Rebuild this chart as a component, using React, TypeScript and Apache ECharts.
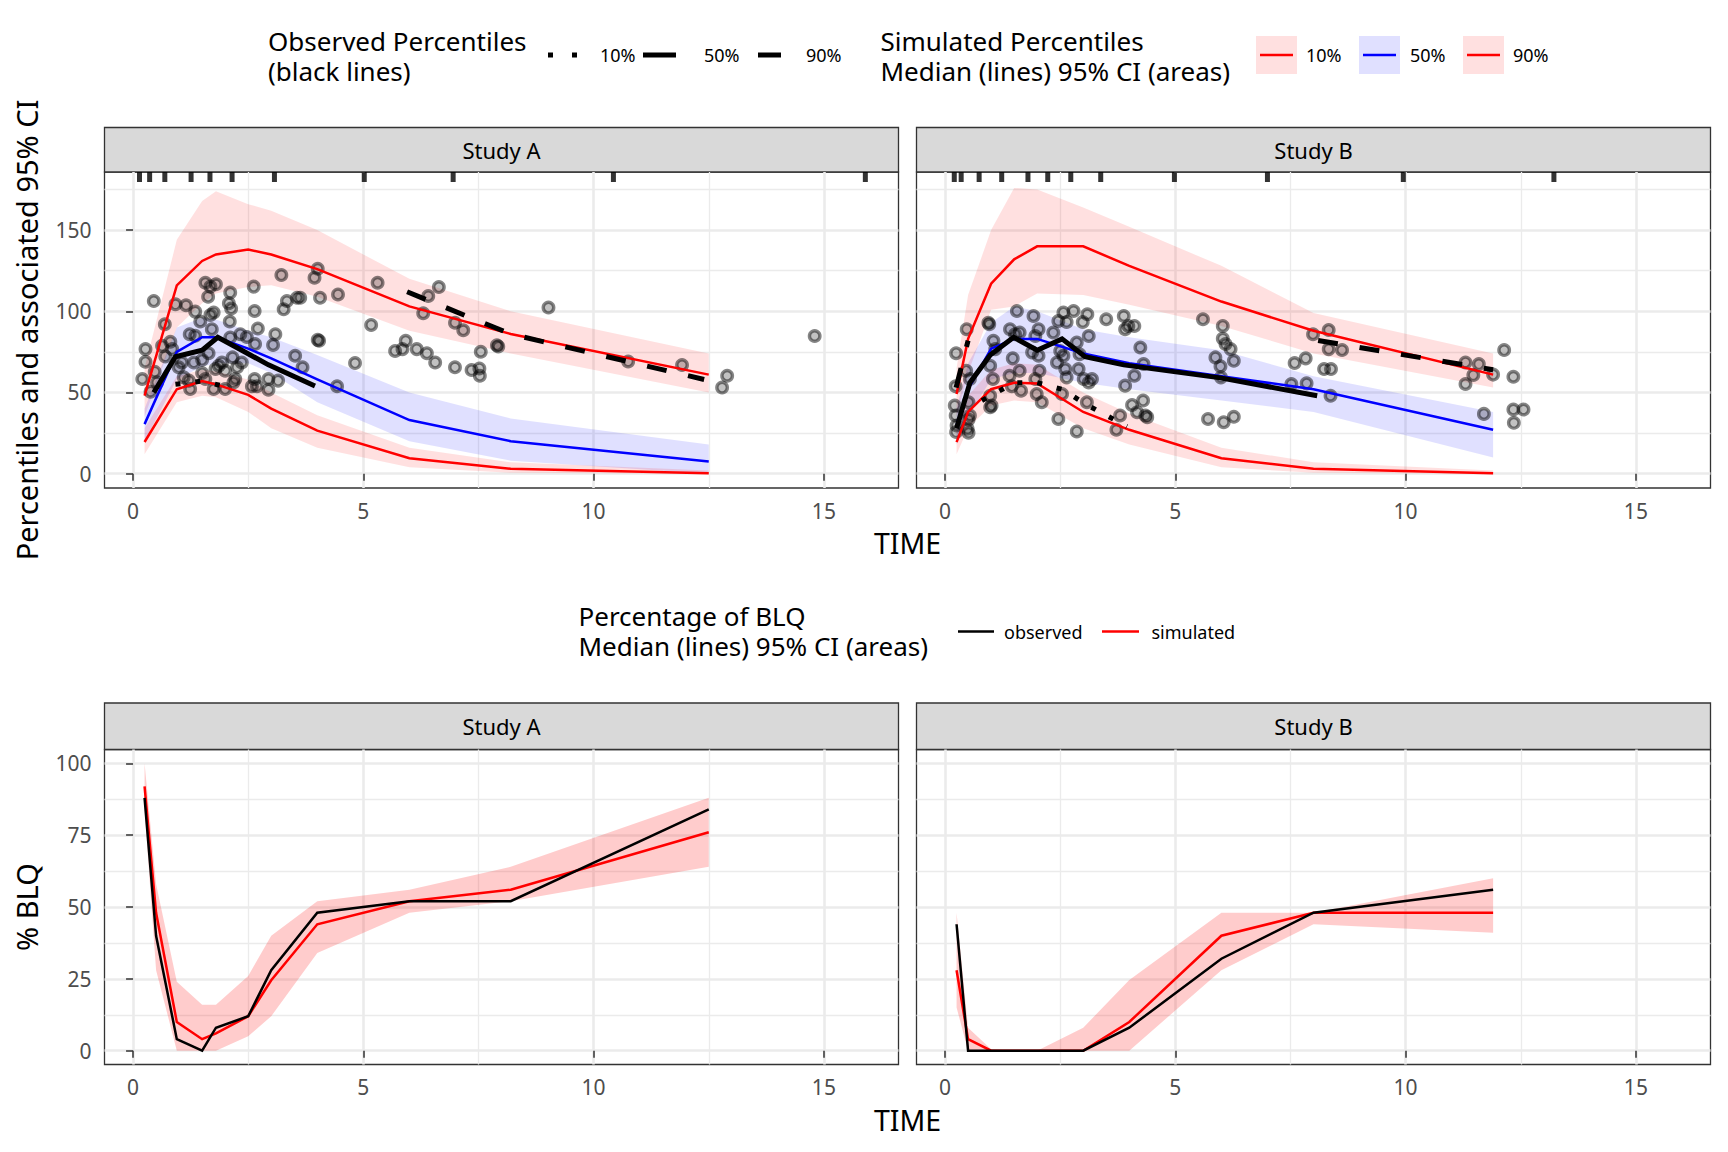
import React, { useEffect, useRef } from "react";
import * as echarts from "echarts";

// ---------------- DATA ----------------
const panels = ["Study A", "Study B"];
const xTicks = [0, 5, 10, 15];
const xMinor = [2.5, 7.5, 12.5];
const topYTicks = [0, 50, 100, 150];
const topYMinor = [25, 75, 125, 175];
const botYTicks = [0, 25, 50, 75, 100];
const botYMinor = [12.5, 37.5, 62.5, 87.5];

// Simulated percentiles (median + 95% CI), Study A
const simTimeA = [0.25, 0.95, 1.5, 1.8, 2.5, 3.0, 4.0, 6.0, 8.2, 12.5];
const simP10A = [19.5, 52, 57, 55, 48.5, 40, 26.5, 9.5, 3, 0.3];
const simP10LoA = [12, 44, 48, 47, 38, 28, 16, 4, 0.5, 0];
const simP10HiA = [28, 60, 64, 63, 58, 50, 36, 16, 7, 2];
const simP50A = [30.5, 75, 84, 84, 77, 71, 58, 33, 20, 7.5];
const simP50LoA = [20, 58, 66, 68, 68, 62, 44, 20, 8, 0];
const simP50HiA = [40, 90, 96, 95, 88, 84, 73, 50, 34, 18];
const simP90A = [48, 116, 131, 135, 138, 135, 126, 103, 86, 61];
const simP90LoA = [35, 90, 105, 111, 115, 116, 109, 88, 74, 50];
const simP90HiA = [65, 144, 168, 174, 166, 162, 150, 120, 100, 74];

// Simulated percentiles, Study B
const simTimeB = [0.25, 0.5, 1.0, 1.5, 2.0, 3.0, 4.0, 6.0, 8.0, 11.9];
const simP10B = [19.4, 38, 52, 56, 55.5, 38, 27, 9.5, 3, 0.3];
const simP10LoB = [12, 28, 42, 45, 44, 28, 18, 4, 0.5, 0];
const simP10HiB = [28, 48, 64, 68, 67, 50, 37, 16, 7, 2];
const simP50B = [30, 52, 77, 83, 83, 74, 68, 60, 52, 27];
const simP50LoB = [18, 35, 58, 62, 62, 56, 52, 45, 38, 10];
const simP50HiB = [40, 68, 93, 103, 100, 89, 84, 76, 60, 38];
const simP90B = [49, 83, 117, 132, 140, 140, 128, 106, 88, 61];
const simP90LoB = [35, 62, 101, 103, 111, 110, 104, 91, 74, 53];
const simP90HiB = [65, 110, 150, 176, 175, 164, 152, 128, 99, 74];

// Observed percentiles, Study A
const obsP10TimeA = [0.92, 1.5, 1.95];
const obsP10A = [55, 57, 54];
const obsP50TimeA = [0.45, 0.92, 1.5, 1.84, 2.36, 2.94, 3.95];
const obsP50A = [50, 72, 76, 84, 76, 67, 54];
const obsP90TimeA = [5.95, 8.2, 12.4];
const obsP90A = [112, 86, 58];

// Observed percentiles, Study B
const obsP10TimeB = [0.8, 1.5, 2.0, 2.54, 3.04, 3.95];
const obsP10B = [45, 56, 56, 52, 43, 29];
const obsP50TimeB = [0.25, 0.54, 0.98, 1.49, 2.0, 2.54, 3.04, 3.88, 5.98, 8.08];
const obsP50B = [28, 56, 73, 84, 76, 83, 72, 67, 59, 48];
const obsP90TimeB1 = [0.24, 0.5];
const obsP90B1 = [53, 82];
const obsP90TimeB2 = [8.1, 11.9];
const obsP90B2 = [82, 64];

// Bin boundaries (rug)
const rugA = [0.14, 0.36, 0.69, 1.26, 1.67, 2.15, 3.07, 5.02, 6.95, 10.43, 15.9];
const rugB = [0.2, 0.35, 0.74, 1.23, 1.8, 2.23, 2.73, 3.38, 4.98, 7.0, 9.95, 13.22];

// Observations, Study A
const obsTimeA = [
  0.45, 0.27, 0.27, 0.2, 0.38, 0.47, 0.52, 0.69, 0.63, 0.81, 0.7, 0.92, 1.15, 1.35, 1.23, 1.46,
  1.57, 1.68, 1.8, 1.63, 1.68, 1.75, 1.71, 1.5, 0.99, 1.1, 1.21, 1.24, 1.5, 1.57, 1.75, 2.0,
  1.79, 1.93, 2.11, 2.08, 2.13, 2.1, 2.11, 2.16, 2.26, 2.22, 2.18, 2.33, 2.47, 2.62, 2.64, 2.71,
  2.65, 2.64, 2.58, 2.69, 2.94, 2.94, 3.15, 3.09, 3.04, 3.22, 3.27, 3.34, 3.56, 3.63, 4.06, 4.01,
  3.94, 3.52, 3.68, 4.01, 4.04, 4.45, 4.43, 4.82, 5.17, 5.31, 5.69, 5.85, 5.92, 6.16, 6.38, 6.56,
  6.3, 6.41, 6.64, 6.99, 6.99, 0.85, 1.06, 1.32, 1.35, 1.64, 1.86, 2.0, 2.36, 7.17, 9.02, 7.9,
  7.93, 7.55, 7.35, 7.52, 7.53, 10.75, 11.92, 12.9, 12.79, 14.8,
];
const obsConcA = [
  106.3, 76.7, 68.9, 58.3, 50.5, 62.8, 56.2, 92, 78.7, 81.2, 72.2, 104.3, 103.7, 99.8, 85.9, 93.7,
  117.6, 115.2, 116.6, 109, 97.7, 99.2, 89, 70.1, 65.5, 59.3, 57.3, 52.1, 62, 58.3, 52.1, 52.1,
  64.4, 68.5, 111.5, 104.9, 101.7, 93.7, 83.9, 71.6, 65.5, 58.3, 56.2, 85.9, 84.2, 115.2, 100.2, 89.4,
  79.8, 58.3, 53.8, 53.8, 58.3, 51.7, 57.3, 85.9, 79.3, 122.3, 101.2, 106.3, 108.4, 108.4, 108.4, 126.2,
  120.7, 72.6, 65.5, 82.4, 81.8, 110.4, 53.8, 68.1, 91.6, 117.6, 75.6, 76.7, 81.8, 76.7, 74.2, 68.5,
  98.8, 109.4, 114.9, 65.5, 93, 76.7, 68.5, 68.5, 84.9, 74.2, 66.5, 63.4, 68.5, 88.3, 102.3, 79.1,
  78.3, 75.1, 63.8, 64.8, 60.3, 69.1, 66.9, 60.3, 53, 84.8,
];

// Observations, Study B
const obsTimeB = [
  0.47, 0.24, 0.23, 0.21, 0.23, 0.25, 0.24, 0.49, 0.51, 0.46, 0.54, 0.51, 0.54, 0.51, 0.94, 0.96,
  1.05, 1.09, 0.98, 1.04, 0.98, 1.01, 0.98, 1.41, 1.56, 1.47, 1.4, 1.45, 1.62, 1.65, 1.52, 1.62,
  1.92, 2.03, 1.96, 1.89, 2.03, 2.05, 1.96, 1.99, 2.1, 2.35, 2.46, 2.57, 2.64, 2.5, 2.43, 2.57,
  2.61, 2.64, 2.54, 2.46, 2.79, 2.99, 3.09, 3.12, 2.86, 2.92, 2.9, 3.01, 3.12, 3.19, 3.08, 2.86,
  3.5, 3.88, 3.91, 3.98, 4.11, 4.24, 4.31, 4.11, 3.91, 4.06, 4.17, 4.3, 4.35, 4.39, 3.8, 3.72,
  5.6, 6.03, 6.03, 6.09, 6.2, 6.27, 5.87, 5.98, 5.99, 5.71, 6.05, 6.27, 7.59, 7.83, 7.52, 7.85,
  7.99, 8.33, 8.33, 8.62, 8.23, 8.38, 8.37, 11.3, 11.59, 11.47, 11.3, 11.9, 12.14, 12.34, 11.7, 12.34,
  12.56, 12.35,
];
const obsConcB = [
  89, 74.2, 53.8, 41.9, 35.8, 29.6, 25.6, 27.6, 25.2, 63.4, 58.3, 44, 35.8, 33.3, 93, 92,
  81.8, 76.7, 66.5, 58.3, 48, 41.9, 40.9, 89, 100.2, 71, 60.3, 53.8, 63.4, 51.1, 85.9, 86.9,
  97.1, 89, 84.8, 74.7, 72.6, 63.4, 58.3, 49.1, 44, 86.9, 94, 99.2, 93.4, 75.6, 68.5, 72.6,
  64.4, 59.3, 49.1, 33.7, 100.2, 93.4, 98.2, 84.8, 80.8, 73.6, 64.4, 58.3, 56.2, 58.3, 44, 26,
  95.1, 97.1, 89, 91, 91, 77.7, 67.5, 60.3, 54.2, 42.3, 37.8, 45, 35.8, 34.8, 35.8, 27,
  95.1, 91, 83.2, 79.8, 76.7, 69.5, 71.6, 66.1, 59.3, 33.7, 31.7, 35, 68.1, 71, 55.2, 55.6,
  85.9, 88.5, 76.7, 76.1, 64.4, 64.4, 48, 68.5, 67.5, 60.7, 55.2, 61, 76.1, 59.7, 36.8, 39.5,
  39.5, 31.3,
];

// Percentage of BLQ, Study A
const blqSimTimeA = [0.25, 0.5, 0.95, 1.5, 1.8, 2.5, 3.0, 4.0, 6.0, 8.2, 12.5];
const blqSimA = [92, 48, 10, 4, 6, 12, 24.5, 44, 52, 56, 76];
const blqSimLoA = [84, 28, 0, 0, 0, 5, 12, 34, 48, 52, 64];
const blqSimHiA = [100, 58, 24, 16, 16, 26, 40, 52, 56, 64, 88];
const blqObsTimeA = [0.25, 0.5, 0.95, 1.5, 1.8, 2.5, 3.0, 4.0, 6.0, 8.2, 12.5];
const blqObsA = [88, 40, 4, 0, 8, 12, 28, 48, 52, 52, 84];

// Percentage of BLQ, Study B
const blqSimTimeB = [0.25, 0.5, 1.0, 1.5, 2.0, 3.0, 4.0, 6.0, 8.0, 11.9];
const blqSimB = [28, 4, 0, 0, 0, 0, 10, 40, 48, 48];
const blqSimLoB = [15, 0, 0, 0, 0, 0, 0, 28, 44, 41];
const blqSimHiB = [48, 8, 0.5, 0, 0, 8, 24.6, 48, 48, 60];
const blqObsTimeB = [0.25, 0.5, 1.0, 1.5, 2.0, 3.0, 4.0, 6.0, 8.0, 11.9];
const blqObsB = [44, 0, 0, 0, 0, 0, 8, 32, 48, 56];

// ---------------- LAYOUT / STYLE ----------------
const FONT = '"Noto Sans", "DejaVu Sans", sans-serif';
const X_MIN = -0.62;
const X_MAX = 16.62;
const TOP_Y = [-8.85, 185.8];
const BOT_Y = [-4.8, 104.8];
const PANEL_LEFT = [104.5, 916.5];
const PANEL_W = 794;
const TOP_PANEL = { top: 172, height: 316 };
const BOT_PANEL = { top: 749.5, height: 315 };
const TOP_STRIP = { top: 127.5, height: 44.5 };
const BOT_STRIP = { top: 703, height: 46.5 };

const RED = "#FF0000";
const BLUE = "#0000FF";
const PINK = "rgba(255,0,0,0.12)";
const LILAC = "rgba(0,0,255,0.12)";
const PINK2 = "rgba(255,0,0,0.2)";
const GRID_COL = "#EBEBEB";

const pairs = (xs: number[], ys: number[]) => xs.map((x, i) => [x, ys[i]]);

function gridLines(g: number, yTicks: number[], yMinor: number[]) {
  const minor = { color: GRID_COL, width: 1.3, type: "solid" };
  const major = { color: GRID_COL, width: 2.6, type: "solid" };
  return {
    type: "line",
    xAxisIndex: g,
    yAxisIndex: g,
    data: [[xTicks[0], yTicks[0]]],
    symbol: "none",
    showSymbol: false,
    lineStyle: { opacity: 0 },
    silent: true,
    z: 0,
    markLine: {
      silent: true,
      z: 0,
      symbol: ["none", "none"],
      label: { show: false },
      emphasis: { disabled: true },
      lineStyle: { color: GRID_COL, type: "solid" },
      data: [
        ...xMinor.map((v) => ({ xAxis: v, lineStyle: minor })),
        ...yMinor.map((v) => ({ yAxis: v, lineStyle: minor })),
        ...xTicks.map((v) => ({ xAxis: v, lineStyle: major })),
        ...yTicks.map((v) => ({ yAxis: v, lineStyle: major })),
      ],
    },
  };
}

function band(g: number, xs: number[], lo: number[], hi: number[], fill: string, z = 2) {
  return {
    type: "custom",
    xAxisIndex: g,
    yAxisIndex: g,
    silent: true,
    z,
    data: xs.map((x, i) => [x, lo[i], hi[i]]),
    encode: { x: 0, y: [1, 2] },
    renderItem: (params: any, api: any) => {
      if (params.dataIndex !== 0) return { type: "group", children: [] };
      const pts: number[][] = [];
      for (let i = 0; i < xs.length; i++) pts.push(api.coord([xs[i], hi[i]]));
      for (let i = xs.length - 1; i >= 0; i--) pts.push(api.coord([xs[i], lo[i]]));
      return { type: "polygon", shape: { points: pts }, style: { fill, stroke: "none" } };
    },
  };
}

function line(g: number, xs: number[], ys: number[], color: string, width: number, dash: any = "solid", z = 4) {
  return {
    type: "line",
    xAxisIndex: g,
    yAxisIndex: g,
    data: pairs(xs, ys),
    symbol: "none",
    showSymbol: false,
    silent: true,
    z,
    lineStyle: { color, width, type: dash, cap: "butt", join: "miter" },
  };
}

function points(g: number, xs: number[], ys: number[]) {
  return {
    type: "scatter",
    xAxisIndex: g,
    yAxisIndex: g,
    data: pairs(xs, ys),
    symbol: "circle",
    symbolSize: 10.5,
    silent: true,
    z: 3,
    itemStyle: { color: "rgba(0,0,0,0.3)", borderColor: "rgba(0,0,0,0.6)", borderWidth: 3.4 },
  };
}

function rug(g: number, xs: number[]) {
  return {
    type: "scatter",
    xAxisIndex: g,
    yAxisIndex: g,
    data: xs.map((x) => [x, TOP_Y[1]]),
    symbol: "rect",
    symbolSize: [5, 10],
    symbolOffset: [0, 5],
    clip: false,
    silent: true,
    z: 6,
    itemStyle: { color: "#000" },
  };
}

function xAxis(g: number) {
  return {
    type: "value",
    gridIndex: g,
    min: X_MIN,
    max: X_MAX,
    axisLine: { show: false },
    splitLine: { show: false },
    axisTick: { show: true, length: 7, customValues: xTicks, lineStyle: { color: "#333333", width: 1.5 } },
    axisLabel: { show: true, customValues: xTicks, fontSize: 21, fontFamily: FONT, color: "#4D4D4D", margin: 12 },
  };
}

function yAxis(g: number, range: number[], ticks: number[], labels: boolean) {
  return {
    type: "value",
    gridIndex: g,
    min: range[0],
    max: range[1],
    axisLine: { show: false },
    splitLine: { show: false },
    axisTick: { show: labels, length: 7, customValues: ticks, lineStyle: { color: "#333333", width: 1.5 } },
    axisLabel: { show: labels, customValues: ticks, fontSize: 21, fontFamily: FONT, color: "#4D4D4D", margin: 13 },
  };
}

function txt(text: string, x: number, y: number, size: number, align = "left", extra: any = {}, lineHeight?: number) {
  return {
    type: "text",
    x,
    y,
    silent: true,
    ...extra,
    style: {
      text,
      fontSize: size,
      fontFamily: FONT,
      fill: "#000000",
      align,
      verticalAlign: "middle",
      textAlign: align,
      textVerticalAlign: "middle",
      ...(lineHeight ? { lineHeight } : {}),
    },
  };
}

function hline(x1: number, x2: number, y: number, color: string, width: number, dash?: number[]) {
  return {
    type: "line",
    silent: true,
    shape: { x1, y1: y, x2, y2: y },
    style: { stroke: color, lineWidth: width, lineDash: dash || null, lineCap: "butt" },
  };
}

function keyBox(x: number, fill: string, lineColor: string) {
  return [
    { type: "rect", silent: true, shape: { x, y: 36, width: 41, height: 38 }, style: { fill, stroke: "none" } },
    hline(x + 4, x + 37, 55, lineColor, 2.5),
  ];
}

function strip(label: string, left: number, s: { top: number; height: number }) {
  return [
    {
      type: "rect",
      silent: true,
      shape: { x: left, y: s.top, width: PANEL_W, height: s.height },
      style: { fill: "#D9D9D9", stroke: "#333333", lineWidth: 1.3 },
    },
    txt(label, left + PANEL_W / 2, s.top + s.height / 2, 22, "center"),
  ];
}

function buildOption() {
  const grids = [
    { left: PANEL_LEFT[0], width: PANEL_W, ...TOP_PANEL },
    { left: PANEL_LEFT[1], width: PANEL_W, ...TOP_PANEL },
    { left: PANEL_LEFT[0], width: PANEL_W, ...BOT_PANEL },
    { left: PANEL_LEFT[1], width: PANEL_W, ...BOT_PANEL },
  ].map((g) => ({ ...g, show: true, borderColor: "#333333", borderWidth: 1.3, backgroundColor: "transparent", containLabel: false }));

  const series: any[] = [
    // ---- top A
    gridLines(0, topYTicks, topYMinor),
    band(0, simTimeA, simP90LoA, simP90HiA, PINK),
    band(0, simTimeA, simP50LoA, simP50HiA, LILAC),
    band(0, simTimeA, simP10LoA, simP10HiA, PINK),
    points(0, obsTimeA, obsConcA),
    line(0, simTimeA, simP10A, RED, 2.5),
    line(0, simTimeA, simP50A, BLUE, 2.5),
    line(0, simTimeA, simP90A, RED, 2.5),
    line(0, obsP10TimeA, obsP10A, "#000", 5, [5, 15], 5),
    line(0, obsP50TimeA, obsP50A, "#000", 5, "solid", 5),
    line(0, obsP90TimeA, obsP90A, "#000", 5, [20, 22], 5),
    rug(0, rugA),
    // ---- top B
    gridLines(1, topYTicks, topYMinor),
    band(1, simTimeB, simP90LoB, simP90HiB, PINK),
    band(1, simTimeB, simP50LoB, simP50HiB, LILAC),
    band(1, simTimeB, simP10LoB, simP10HiB, PINK),
    points(1, obsTimeB, obsConcB),
    line(1, simTimeB, simP10B, RED, 2.5),
    line(1, simTimeB, simP50B, BLUE, 2.5),
    line(1, simTimeB, simP90B, RED, 2.5),
    line(1, obsP10TimeB, obsP10B, "#000", 5, [5, 15], 5),
    line(1, obsP50TimeB, obsP50B, "#000", 5, "solid", 5),
    line(1, obsP90TimeB1, obsP90B1, "#000", 5, [20, 22], 5),
    line(1, obsP90TimeB2, obsP90B2, "#000", 5, [20, 22], 5),
    rug(1, rugB),
    // ---- bottom A
    gridLines(2, botYTicks, botYMinor),
    band(2, blqSimTimeA, blqSimLoA, blqSimHiA, PINK2),
    line(2, blqSimTimeA, blqSimA, RED, 2.5),
    line(2, blqObsTimeA, blqObsA, "#000", 2.5, "solid", 5),
    // ---- bottom B
    gridLines(3, botYTicks, botYMinor),
    band(3, blqSimTimeB, blqSimLoB, blqSimHiB, PINK2),
    line(3, blqSimTimeB, blqSimB, RED, 2.5),
    line(3, blqObsTimeB, blqObsB, "#000", 2.5, "solid", 5),
  ];

  const midX = (PANEL_LEFT[0] + PANEL_LEFT[1] + PANEL_W) / 2;
  const graphic: any[] = [
    // strips
    ...strip(panels[0], PANEL_LEFT[0], TOP_STRIP),
    ...strip(panels[1], PANEL_LEFT[1], TOP_STRIP),
    ...strip(panels[0], PANEL_LEFT[0], BOT_STRIP),
    ...strip(panels[1], PANEL_LEFT[1], BOT_STRIP),
    // axis titles
    txt("TIME", midX, 543, 28.5, "center"),
    txt("TIME", midX, 1120, 28.5, "center"),
    txt("Percentiles and associated 95% CI", 26.5, TOP_PANEL.top + TOP_PANEL.height / 2, 29, "center", { rotation: Math.PI / 2 }),
    txt("% BLQ", 26.5, BOT_PANEL.top + BOT_PANEL.height / 2, 29, "center", { rotation: Math.PI / 2 }),
    // top legend: observed
    txt("Observed Percentiles\n(black lines)", 268, 55.5, 26, "left", {}, 30),
    hline(548, 580, 55, "#000", 5, [5, 19]),
    txt("10%", 600, 55, 18),
    hline(643, 676, 55, "#000", 5),
    txt("50%", 704, 55, 18),
    hline(758, 792, 55, "#000", 5, [23, 20]),
    txt("90%", 806, 55, 18),
    // top legend: simulated
    txt("Simulated Percentiles\nMedian (lines) 95% CI (areas)", 880.5, 55.5, 26, "left", {}, 30),
    ...keyBox(1256, PINK, RED),
    txt("10%", 1306, 55, 18),
    ...keyBox(1359, LILAC, BLUE),
    txt("50%", 1410, 55, 18),
    ...keyBox(1463, PINK, RED),
    txt("90%", 1513, 55, 18),
    // bottom legend
    txt("Percentage of BLQ\nMedian (lines) 95% CI (areas)", 578.5, 631, 26, "left", {}, 30),
    hline(958, 994, 631.5, "#000", 2.5),
    txt("observed", 1004, 631.5, 18),
    hline(1102, 1139, 631.5, RED, 2.5),
    txt("simulated", 1151.5, 631.5, 18),
  ];

  return {
    animation: false,
    backgroundColor: "#FFFFFF",
    textStyle: { fontFamily: FONT },
    grid: grids,
    xAxis: [xAxis(0), xAxis(1), xAxis(2), xAxis(3)],
    yAxis: [
      yAxis(0, TOP_Y, topYTicks, true),
      yAxis(1, TOP_Y, topYTicks, false),
      yAxis(2, BOT_Y, botYTicks, true),
      yAxis(3, BOT_Y, botYTicks, false),
    ],
    series,
    graphic,
  };
}

export default function App() {
  const ref = useRef<HTMLDivElement>(null);
  useEffect(() => {
    if (!ref.current) return;
    const chart = echarts.init(ref.current, null, { renderer: "svg" });
    chart.setOption(buildOption() as any);
    return () => chart.dispose();
  }, []);
  return (
    <div
      ref={ref}
      style={{ position: "absolute", left: 0, top: 0, width: "1728px", height: "1152px", background: "#fff" }}
    />
  );
}
